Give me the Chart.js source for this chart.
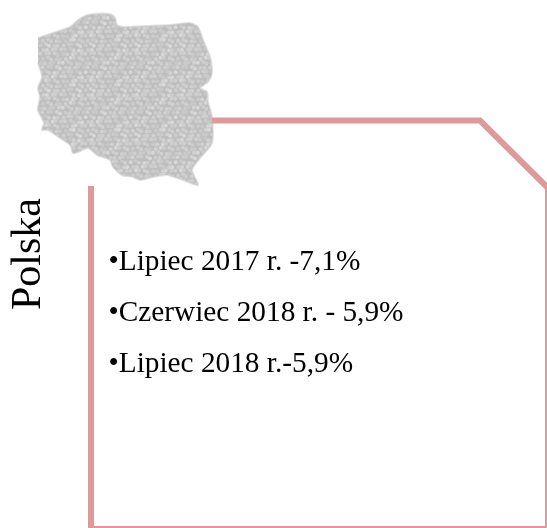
<!DOCTYPE html>
<html><head><meta charset="utf-8">
<style>html,body{margin:0;padding:0;background:#fff;overflow:hidden}canvas{display:block}</style>
<script src="https://cdn.jsdelivr.net/npm/chart.js@4"></script>
</head><body>
<canvas id="c" width="547" height="528"></canvas>
<script>
const title = "Polska";
const items = ["•Lipiec 2017 r. -7,1%", "•Czerwiec 2018 r. - 5,9%", "•Lipiec 2018 r.-5,9%"];
const frameX = [91, 91, 548, 548, 480, 212];
const frameY = [186, 529, 529, 188, 120.5, 120.5];
const mapX = [38,53,70,78,88,110,115,117,123,147,170,190,198,203,210,212,208,200,207,208,212,212,200,192,198,183,167,153,140,133,122,113,110,97,88,78,73,70,60,48,42,44,38,40,38,42,38];
const mapY = [38,33,27,20,15,14,18,25,27,26,25,23,27,40,57,73,82,88,92,102,117,143,158,170,185,180,175,177,180,177,175,167,160,155,148,152,153,145,138,130,130,123,110,97,88,77,63];

function toPoints(xs, ys){ return xs.map((x,i)=>({x, y:ys[i]})); }

// fine cell texture of the map fill
function cellPattern(){
  const size = 45, step = 4.5;
  const jitter = [0.8,-0.6,0.3,-1,0.5,1,-0.4,0.7,-0.8,0.2,-0.3,0.9,-0.7,0.4,-0.2];
  const tone = ['#d2d2d2','#cbcbcb','#cfcfcf','#d8d8d8','#c9c9c9','#d0d0d0','#cdcdcd'];
  const t = document.createElement('canvas'); t.width = size; t.height = size;
  const g = t.getContext('2d');
  g.fillStyle = '#bebebe'; g.fillRect(0,0,size,size);
  g.filter = 'blur(0.6px)';
  let k = 0;
  for (let r = 0; r < 10; r++) for (let c = 0; c < 10; c++) {
    const px = c*step + (r%2)*step/2 + jitter[k%15];
    const py = r*step + jitter[(k*4+3)%15];
    g.fillStyle = tone[(k*3+r)%7];
    for (const dx of [-size,0,size]) for (const dy of [-size,0,size]) {
      g.beginPath(); g.arc(px+dx,py+dy,1.95,0,Math.PI*2); g.fill();
    }
    k++;
  }
  return document.createElement('canvas').getContext('2d').createPattern(t,'repeat');
}

const textPlugin = {
  id:'textPlugin',
  afterDraw(chart){
    const {ctx, scales:{x,y}} = chart;
    ctx.save();
    ctx.fillStyle = '#000';
    ctx.textBaseline = 'alphabetic';
    ctx.textAlign = 'left';
    ctx.font = '29.3px "Liberation Serif"';
    const rows = [270, 321, 372];
    items.forEach((s,i)=>ctx.fillText(s, x.getPixelForValue(108.5), y.getPixelForValue(rows[i])));
    ctx.translate(x.getPixelForValue(40), y.getPixelForValue(310));
    ctx.rotate(-Math.PI/2);
    ctx.font = '42px "Liberation Serif"';
    ctx.fillText(title, 0, 0);
    ctx.restore();
  }
};

new Chart(document.getElementById('c'), {
  type:'scatter',
  data:{datasets:[
    {label:'ramka', data:toPoints(frameX,frameY), showLine:true, borderColor:'#de9a9a', borderWidth:6, pointRadius:0, fill:false, clip:false, borderJoinStyle:'miter'},
    {label:'mapa', data:toPoints(mapX,mapY), showLine:true, borderColor:'rgba(200,200,200,0.55)', borderWidth:2, backgroundColor:cellPattern(), pointRadius:0, fill:'shape', tension:0.25, clip:false}
  ]},
  options:{
    responsive:false, animation:false,
    layout:{padding:0},
    plugins:{legend:{display:false}, tooltip:{enabled:false}},
    scales:{
      x:{type:'linear', min:0, max:547, display:false},
      y:{type:'linear', min:0, max:528, reverse:true, display:false}
    }
  },
  plugins:[textPlugin]
});
</script>
</body></html>
